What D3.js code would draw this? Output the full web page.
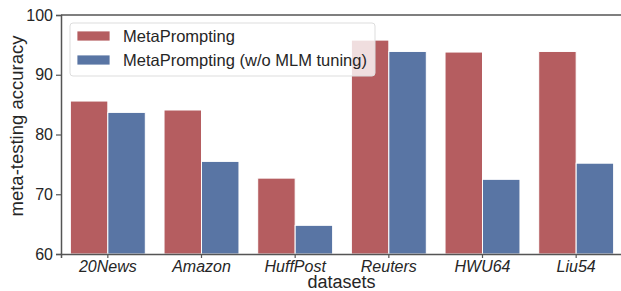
<!DOCTYPE html>
<html>
<head>
<meta charset="utf-8">
<script src="https://cdn.jsdelivr.net/npm/d3@7"></script>
<style>
  body { margin: 0; background: #fff; }
  svg { display: block; font-family: "Liberation Sans", Arial, sans-serif; }
</style>
</head>
<body>
<svg id="root"></svg>
<script>
const datasets = ["20News", "Amazon", "HuffPost", "Reuters", "HWU64", "Liu54"];
const seriesNames = ["MetaPrompting", "MetaPrompting (w/o MLM tuning)"];
const metaPrompting = [85.6, 84.1, 72.7, 95.8, 93.8, 93.9];
const noMlmTuning = [83.7, 75.5, 64.8, 93.9, 72.5, 75.2];
const yTicks = [60, 70, 80, 90, 100];
const colors = ["#b55d60", "#5975a4"];

const width = 621;
const height = 291;
const margin = { left: 61, right: -2, top: 15, bottom: 37 };
const textColor = "#262626";

const svg = d3.select("#root").attr("width", width).attr("height", height);

const x = d3.scaleBand()
  .domain(datasets)
  .range([margin.left, width - margin.right])
  .paddingInner(0.2)
  .paddingOuter(0.1);

const xInner = d3.scaleBand()
  .domain(seriesNames)
  .range([0, x.bandwidth()]);

const y = d3.scaleLinear()
  .domain([60, 100])
  .range([height - margin.bottom, margin.top]);

const rows = datasets.map((d, i) => ({
  dataset: d,
  values: [metaPrompting[i], noMlmTuning[i]]
}));

// bars
const groups = svg.append("g")
  .selectAll("g")
  .data(rows)
  .enter()
  .append("g")
  .attr("transform", d => `translate(${x(d.dataset)},0)`);

groups.selectAll("rect")
  .data(d => d.values.map((v, k) => ({ v, k })))
  .enter()
  .append("rect")
  .attr("x", d => xInner(seriesNames[d.k]))
  .attr("width", xInner.bandwidth())
  .attr("y", d => y(d.v))
  .attr("height", d => y(60) - y(d.v))
  .attr("fill", d => colors[d.k])
  .attr("stroke", "white")
  .attr("stroke-width", 1);

// axes
const yAxis = svg.append("g")
  .attr("transform", `translate(${margin.left},0)`)
  .call(d3.axisLeft(y).tickValues(yTicks).tickSize(5).tickPadding(3));

const xAxis = svg.append("g")
  .attr("transform", `translate(0,${height - margin.bottom})`)
  .call(d3.axisBottom(x).tickSize(4).tickPadding(3));

[yAxis, xAxis].forEach(ax => {
  ax.select(".domain").attr("stroke", "#555").attr("stroke-width", 1.5);
  ax.selectAll(".tick line").attr("stroke", "#555").attr("stroke-width", 1.2);
  ax.selectAll(".tick text").attr("fill", textColor).attr("font-size", 16);
});
xAxis.selectAll(".tick text").attr("font-style", "italic");

// top spine
svg.append("line")
  .attr("x1", margin.left).attr("x2", width)
  .attr("y1", margin.top).attr("y2", margin.top)
  .attr("stroke", "#555").attr("stroke-width", 1.5);

// axis labels
svg.append("text")
  .attr("x", 341.5)
  .attr("y", 288)
  .attr("text-anchor", "middle")
  .attr("font-size", 18)
  .attr("fill", textColor)
  .text("datasets");

svg.append("text")
  .attr("transform", `translate(23,126) rotate(-90)`)
  .attr("text-anchor", "middle")
  .attr("font-size", 18.5)
  .attr("fill", textColor)
  .text("meta-testing accuracy");

// legend
const legend = svg.append("g").attr("transform", "translate(70,23)");
legend.append("rect")
  .attr("width", 305).attr("height", 53).attr("rx", 3)
  .attr("fill", "white").attr("fill-opacity", 0.8)
  .attr("stroke", "#ddd").attr("stroke-width", 1);

seriesNames.forEach((name, i) => {
  legend.append("rect")
    .attr("x", 7).attr("y", 8 + i * 24)
    .attr("width", 33).attr("height", 10)
    .attr("fill", colors[i]).attr("stroke", "white").attr("stroke-width", 0.8);
  legend.append("text")
    .attr("x", 53).attr("y", 19 + i * 24)
    .attr("font-size", 16.5)
    .attr("fill", textColor)
    .text(name);
});
</script>
</body>
</html>
